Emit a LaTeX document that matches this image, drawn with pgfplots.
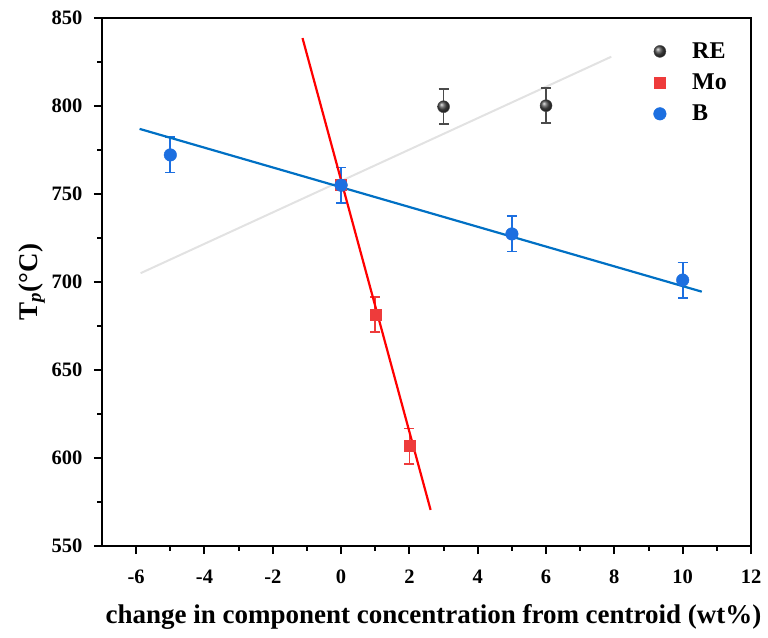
\documentclass[border=0pt]{standalone}
\usepackage{fontspec}
\setmainfont{Liberation Serif}
\usepackage{pgfplots}
\pgfplotsset{compat=1.18}
\definecolor{reC}{HTML}{4A4A4A}
\definecolor{moC}{HTML}{EE3B3B}
\definecolor{bC}{HTML}{1C6FE0}
\definecolor{bL}{HTML}{0070C4}
\definecolor{reL}{HTML}{E2E2E2}
\begin{document}
\begin{tikzpicture}[x=1pt,y=1pt]
\useasboundingbox (-102,-91) rectangle (666,546);
\begin{axis}[at={(0,0)}, anchor=south west, scale only axis, width=649pt, height=528pt,
 xmin=-7, xmax=12, ymin=550, ymax=850,
 xtick={-6,-4,...,12}, ytick={550,600,...,850},
 minor x tick num=1, minor y tick num=1,
 tick align=outside, xtick pos=bottom, ytick pos=left,
 axis line style={line width=2.5pt},
 major tick length=8pt, minor tick length=4.5pt,
 every tick/.style={black, line width=2pt},
 ticklabel style={font=\fontsize{20.5}{24}\selectfont\bfseries},
 /pgf/number format/assume math mode=true,
 xticklabel style={yshift=-12pt},
 yticklabel style={xshift=-8pt},
 xlabel={change in component concentration from centroid (wt\%)},
 ylabel={T\textsubscript{\textit{p}}(°C)},
 label style={font=\fontsize{27}{30}\selectfont\bfseries},
 xlabel style={yshift=-14pt, xshift=7pt},
 ylabel style={yshift=0pt},
 legend style={at={(0.845,0.961)}, anchor=north west, draw=none, fill=none,
   font=\fontsize{24}{27}\selectfont\bfseries, row sep=10pt,
   /tikz/every odd column/.append style={column sep=24pt}},
 legend cell align=left,
]
% RE fit line (under markers)
\addplot[reL, line width=2pt, forget plot] coordinates {(-5.87,705) (7.91,828)};
% RE
\addplot[reC, only marks, mark=ball, mark size=6pt, mark options={ball color=reC, draw=none},
  error bars/.cd, y dir=both, y explicit,
  error bar style={line width=1.8pt, draw=reC},
  error mark options={rotate=90, mark size=5pt, line width=1.8pt, draw=reC}]
  coordinates {(0,755) +- (0,10) (3,799.6) +- (0,10) (6,800.2) +- (0,10)};
\addlegendentry{RE}
% Mo
\addplot[moC, only marks, mark=square*, mark size=5.5pt, mark options={fill=moC, draw=moC},
  error bars/.cd, y dir=both, y explicit,
  error bar style={line width=1.8pt, draw=moC},
  error mark options={rotate=90, mark size=5pt, line width=1.8pt, draw=moC}]
  coordinates {(0,755) +- (0,10) (1,681.5) +- (0,10) (2,606.8) +- (0,10)};
\addlegendentry{Mo}
% B
\addplot[bC, only marks, mark=*, mark size=6.3pt, mark options={fill=bC, draw=bC},
  error bars/.cd, y dir=both, y explicit,
  error bar style={line width=1.8pt, draw=bC},
  error mark options={rotate=90, mark size=5pt, line width=1.8pt, draw=bC}]
  coordinates {(-5,772.2) +- (0,10) (0,755) +- (0,10) (5,727.3) +- (0,10) (10,701.1) +- (0,10)};
\addlegendentry{B}
% fit lines
\addplot[bL, line width=2.2pt, forget plot] coordinates {(-5.9,787) (10.56,694.5)};
\addplot[red, line width=2.2pt, forget plot] coordinates {(-1.13,838.6) (2.62,570.5)};
\end{axis}
\end{tikzpicture}
\end{document}
